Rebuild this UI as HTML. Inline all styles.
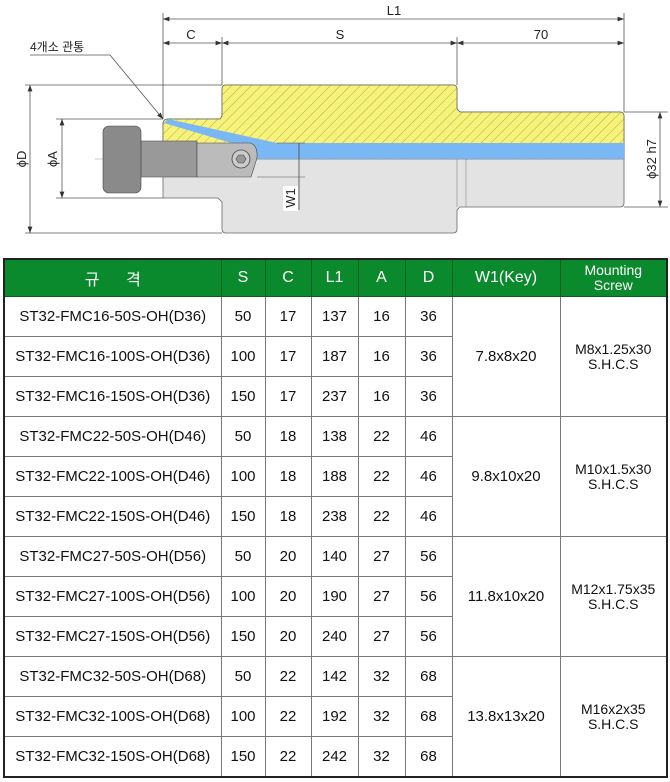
<!DOCTYPE html>
<html><head><meta charset="utf-8"><style>
body{margin:0;width:670px;height:782px;background:#fff;position:relative;overflow:hidden;font-family:"Liberation Sans","Noto Sans CJK KR",sans-serif}
svg{position:absolute;left:0;top:0}
table{position:absolute;left:3px;top:258px;border-collapse:collapse;width:665px;table-layout:fixed;border:2px solid #222}
td,th{border:1px solid #777;text-align:center;font-size:15px;color:#111;height:39px;padding:0}
th{background:#0a8a2c;color:#fff;font-weight:normal;font-size:16px;height:36px;border-color:#06601e}
.m{font-size:14px;line-height:15px}
</style></head><body>
<svg width="670" height="258" viewBox="0 0 670 258">
<defs>
<pattern id="h" width="7" height="7" patternUnits="userSpaceOnUse" patternTransform="rotate(45)"><rect width="7" height="7" fill="#f7f27a"/><line x1="0" y1="0" x2="0" y2="7" stroke="#9a9a40" stroke-width="0.8"/></pattern>
<marker id="a" markerWidth="8" markerHeight="6" refX="8" refY="3" orient="auto-start-reverse"><path d="M0,0L8,3L0,6z" fill="#333"/></marker>
</defs>
<g stroke="#555" stroke-width="0.8" fill="none">
<line x1="163" y1="13" x2="163" y2="119"/><line x1="624" y1="13" x2="624" y2="112"/>
<line x1="222" y1="37" x2="222" y2="85"/><line x1="457" y1="37" x2="457" y2="85"/>
<line x1="163" y1="19" x2="624" y2="19" marker-start="url(#a)" marker-end="url(#a)"/>
<line x1="163" y1="43" x2="222" y2="43" marker-start="url(#a)" marker-end="url(#a)"/>
<line x1="222" y1="43" x2="457" y2="43" marker-start="url(#a)" marker-end="url(#a)"/>
<line x1="457" y1="43" x2="624" y2="43" marker-start="url(#a)" marker-end="url(#a)"/>
<line x1="25" y1="85" x2="222" y2="85"/><line x1="25" y1="233" x2="222" y2="233"/>
<line x1="30" y1="85" x2="30" y2="233" marker-start="url(#a)" marker-end="url(#a)"/>
<line x1="56" y1="119" x2="163" y2="119"/><line x1="56" y1="198" x2="163" y2="198"/>
<line x1="62" y1="119" x2="62" y2="198" marker-start="url(#a)" marker-end="url(#a)"/>
<line x1="624" y1="112" x2="668" y2="112"/><line x1="624" y1="207" x2="668" y2="207"/>
<line x1="660" y1="112" x2="660" y2="207" marker-start="url(#a)" marker-end="url(#a)"/>
<line x1="30" y1="55" x2="110" y2="55"/><line x1="110" y1="55" x2="163" y2="119" marker-end="url(#a)"/>
</g>
<path d="M163,198 L163,124 Q163,119 168,119 L220,119 L222,116 L222,89 Q222,85 226,85 L453,85 Q457,85 457,89 L457,109 L460,112 L620,112 Q624,112 624,116 L624,203 Q624,207 620,207 L460,207 L457,210 L457,229 Q457,233 453,233 L226,233 Q222,233 222,229 L222,202 L218,198 Z" fill="#e3e3e3" stroke="#666" stroke-width="0.8"/>
<line x1="457" y1="207" x2="457" y2="159" stroke="#888" stroke-width="0.6"/>
<line x1="466" y1="207" x2="466" y2="159" stroke="#888" stroke-width="0.6"/>
<path d="M163,159 L163,124 Q163,119 168,119 L220,119 L222,116 L222,89 Q222,85 226,85 L453,85 Q457,85 457,89 L457,109 L460,112 L620,112 Q624,112 624,116 L624,159 Z" fill="url(#h)" stroke="#666" stroke-width="0.8"/>
<rect x="250" y="143" width="374" height="16" fill="#7ab8f5"/>
<path d="M164,123 L168,119 L277,143 L255,150 Z" fill="#7ab8f5"/>
<line x1="95" y1="159" x2="624" y2="159" stroke="#999" stroke-width="0.6" stroke-dasharray="10,3,2,3"/>
<rect x="141" y="141" width="56" height="36" fill="#999" stroke="#555" stroke-width="0.6"/>
<rect x="103" y="126" width="38" height="67" rx="6" fill="#8a8a8a" stroke="#444" stroke-width="0.6"/>
<path d="M197,143 L250,143 Q258,145 257,158 L251,177 L197,177 Z" fill="#bbb" stroke="#444" stroke-width="0.6"/>
<circle cx="241" cy="159" r="9" fill="#ccc" stroke="#444" stroke-width="0.8"/>
<polygon points="236,159 238.5,155 243.5,155 246,159 243.5,163 238.5,163" fill="#999" stroke="#444" stroke-width="0.6"/>
<line x1="257" y1="177" x2="305" y2="177" stroke="#555" stroke-width="0.6"/>
<line x1="277" y1="143" x2="305" y2="143" stroke="#555" stroke-width="0.6"/>
<line x1="299" y1="143" x2="299" y2="210" stroke="#444" stroke-width="0.8"/>
<rect x="283" y="186" width="15" height="25" fill="#fff"/>
<g font-size="13" fill="#222">
<text x="394" y="15" text-anchor="middle">L1</text>
<text x="191" y="39" text-anchor="middle">C</text>
<text x="340" y="39" text-anchor="middle">S</text>
<text x="541" y="39" text-anchor="middle">70</text>
<text x="30" y="51" font-size="12">4개소 관통</text>
<text transform="translate(26,159) rotate(-90)" text-anchor="middle">ϕD</text>
<text transform="translate(57,159) rotate(-90)" text-anchor="middle">ϕA</text>
<text transform="translate(295,198) rotate(-90)" text-anchor="middle">W1</text>
<text transform="translate(656,159) rotate(-90)" text-anchor="middle">ϕ32 h7</text>
</g>
</svg>
<table>
<colgroup><col style="width:217px"><col style="width:44px"><col style="width:46px"><col style="width:47px"><col style="width:47px"><col style="width:47px"><col style="width:108px"><col></colgroup>
<tr><th>규 &nbsp;&nbsp;&nbsp;&nbsp; 격</th><th>S</th><th>C</th><th>L1</th><th>A</th><th>D</th><th>W1(Key)</th><th class="m">Mounting<br>Screw</th></tr>
<tr><td>ST32-FMC16-50S-OH(D36)</td><td>50</td><td>17</td><td>137</td><td>16</td><td>36</td><td rowspan="3">7.8x8x20</td><td rowspan="3" class="m">M8x1.25x30<br>S.H.C.S</td></tr>
<tr><td>ST32-FMC16-100S-OH(D36)</td><td>100</td><td>17</td><td>187</td><td>16</td><td>36</td></tr>
<tr><td>ST32-FMC16-150S-OH(D36)</td><td>150</td><td>17</td><td>237</td><td>16</td><td>36</td></tr>
<tr><td>ST32-FMC22-50S-OH(D46)</td><td>50</td><td>18</td><td>138</td><td>22</td><td>46</td><td rowspan="3">9.8x10x20</td><td rowspan="3" class="m">M10x1.5x30<br>S.H.C.S</td></tr>
<tr><td>ST32-FMC22-100S-OH(D46)</td><td>100</td><td>18</td><td>188</td><td>22</td><td>46</td></tr>
<tr><td>ST32-FMC22-150S-OH(D46)</td><td>150</td><td>18</td><td>238</td><td>22</td><td>46</td></tr>
<tr><td>ST32-FMC27-50S-OH(D56)</td><td>50</td><td>20</td><td>140</td><td>27</td><td>56</td><td rowspan="3">11.8x10x20</td><td rowspan="3" class="m">M12x1.75x35<br>S.H.C.S</td></tr>
<tr><td>ST32-FMC27-100S-OH(D56)</td><td>100</td><td>20</td><td>190</td><td>27</td><td>56</td></tr>
<tr><td>ST32-FMC27-150S-OH(D56)</td><td>150</td><td>20</td><td>240</td><td>27</td><td>56</td></tr>
<tr><td>ST32-FMC32-50S-OH(D68)</td><td>50</td><td>22</td><td>142</td><td>32</td><td>68</td><td rowspan="3">13.8x13x20</td><td rowspan="3" class="m">M16x2x35<br>S.H.C.S</td></tr>
<tr><td>ST32-FMC32-100S-OH(D68)</td><td>100</td><td>22</td><td>192</td><td>32</td><td>68</td></tr>
<tr><td>ST32-FMC32-150S-OH(D68)</td><td>150</td><td>22</td><td>242</td><td>32</td><td>68</td></tr>
</table>
</body></html>
